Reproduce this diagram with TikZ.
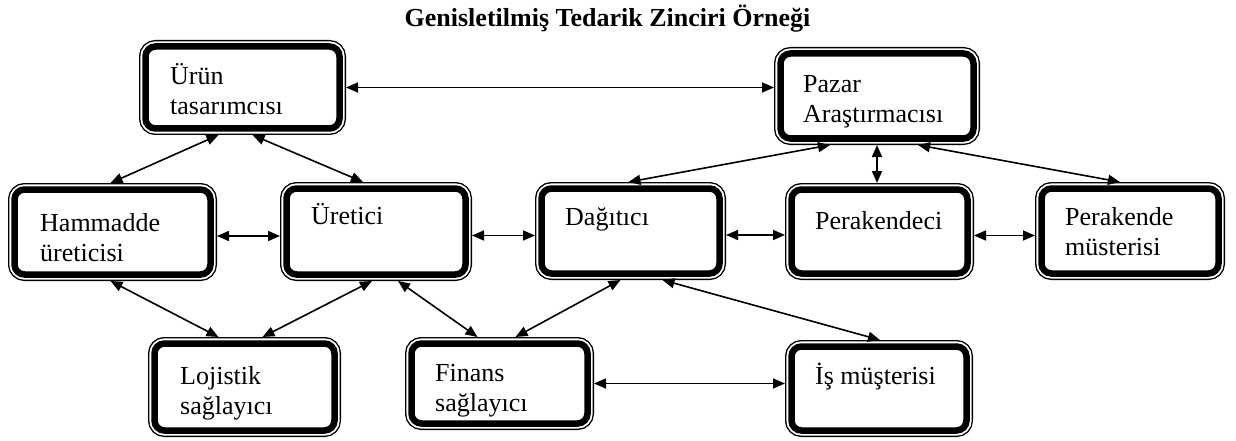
\documentclass[tikz,border=0pt]{standalone}
\usepackage{fontspec}
\setmainfont{Liberation Serif}
\usetikzlibrary{arrows.meta}

\begin{document}
\begin{tikzpicture}[x=1pt,y=-1pt,
  % box with a thick inner frame and a thin outer frame
  sbox/.style={rectangle, rounded corners=10pt, draw=black, line width=6.5pt,
    fill=white, inner sep=0pt, outer sep=6.5pt,
    preaction={draw=black, line width=13pt},
    preaction={draw=white, line width=10.2pt}},
  boxtext/.style={anchor=base west, align=left, inner sep=0pt,
    font=\fontsize{26}{30}\selectfont},
  link/.style={line width=1.6pt,
    {Triangle[length=12pt,width=10pt]}-{Triangle[length=12pt,width=10pt]}}]

\useasboundingbox (0,0) rectangle (1236,441);

\node[anchor=base, inner sep=0pt, font=\fontsize{26}{30}\selectfont\bfseries]
  (title) at (607.5,27) {Genisletilmiş Tedarik Zinciri Örneği};

% boxes
\node[sbox, minimum width=194pt, minimum height=82pt] (urun)  at (242.5,87.5) {};
\node[sbox, minimum width=193pt, minimum height=85pt] (pazar) at (877,96) {};
\node[sbox, minimum width=196pt, minimum height=85pt] (ham)   at (112.5,232) {};
\node[sbox, minimum width=179pt, minimum height=86pt] (uret)  at (376,231.5) {};
\node[sbox, minimum width=178pt, minimum height=85pt] (dag)   at (630.5,231) {};
\node[sbox, minimum width=176pt, minimum height=84pt] (per)   at (879.5,231.5) {};
\node[sbox, minimum width=177pt, minimum height=85pt] (pmus)  at (1130,231) {};
\node[sbox, minimum width=180pt, minimum height=87pt] (loj)   at (244.5,387) {};
\node[sbox, minimum width=176pt, minimum height=80pt] (fin)   at (499.5,383.5) {};
\node[sbox, minimum width=175pt, minimum height=84pt] (ismus) at (879,388.5) {};

% box labels (the base anchor of a two-line label sits on its second line)
\node[boxtext] (urun-t)  at ([xshift=31pt,yshift=-75pt]urun.north west)  {Ürün\\tasarımcısı};
\node[boxtext] (pazar-t) at ([xshift=29pt,yshift=-76pt]pazar.north west) {Pazar\\Araştırmacısı};
\node[boxtext] (ham-t)   at ([xshift=32pt,yshift=-78pt]ham.north west)   {Hammadde\\üreticisi};
\node[boxtext] (uret-t)  at ([xshift=31pt,yshift=-42pt]uret.north west)  {Üretici};
\node[boxtext] (dag-t)   at ([xshift=30pt,yshift=-43pt]dag.north west)   {Dağıtıcı};
\node[boxtext] (per-t)   at ([xshift=30pt,yshift=-46pt]per.north west)   {Perakendeci};
\node[boxtext] (pmus-t)  at ([xshift=30pt,yshift=-73pt]pmus.north west)  {Perakende\\müsterisi};
\node[boxtext] (loj-t)   at ([xshift=32pt,yshift=-77pt]loj.north west)   {Lojistik\\sağlayıcı};
\node[boxtext] (fin-t)   at ([xshift=30pt,yshift=-74pt]fin.north west)   {Finans\\sağlayıcı};
\node[boxtext] (ismus-t) at ([xshift=30pt,yshift=-44pt]ismus.north west) {İş müşterisi};

% connectors
\draw[link] (urun.east) -- (urun.east -| pazar.west);
\draw[link] ([xshift=-24pt]urun.south) -- ([xshift=-2pt]ham.north);
\draw[link] ([xshift=10pt]urun.south) -- ([xshift=-13pt]uret.north);
\draw[link] ([yshift=-4pt]ham.east) -- ([yshift=-4pt]ham.east -| uret.west);
\draw[link] ([yshift=-4pt]uret.east) -- ([yshift=-4pt]uret.east -| dag.west);
\draw[link] ([yshift=-4pt]dag.east) -- ([yshift=-4pt]dag.east -| per.west);
\draw[link] ([yshift=-4pt]per.east) -- ([yshift=-4pt]per.east -| pmus.west);
\draw[link] ([xshift=-47pt]pazar.south) -- ([xshift=-2pt]dag.north);
\draw[link] (pazar.south) -- (pazar.south |- per.north);
\draw[link] ([xshift=41pt]pazar.south) -- ([xshift=-10pt]pmus.north);
\draw[link] ([xshift=-2pt]ham.south) -- ([xshift=-26pt]loj.north);
\draw[link] ([xshift=-4pt]uret.south) -- ([xshift=18pt]loj.north);
\draw[link] ([xshift=22pt]uret.south) -- ([xshift=-22pt]fin.north);
\draw[link] ([xshift=-10pt]dag.south) -- ([xshift=16pt]fin.north);
\draw[link] ([xshift=32pt]dag.south) -- ([xshift=1pt]ismus.north);
\draw[link] (fin.east) -- (fin.east -| ismus.west);

\end{tikzpicture}
\end{document}
